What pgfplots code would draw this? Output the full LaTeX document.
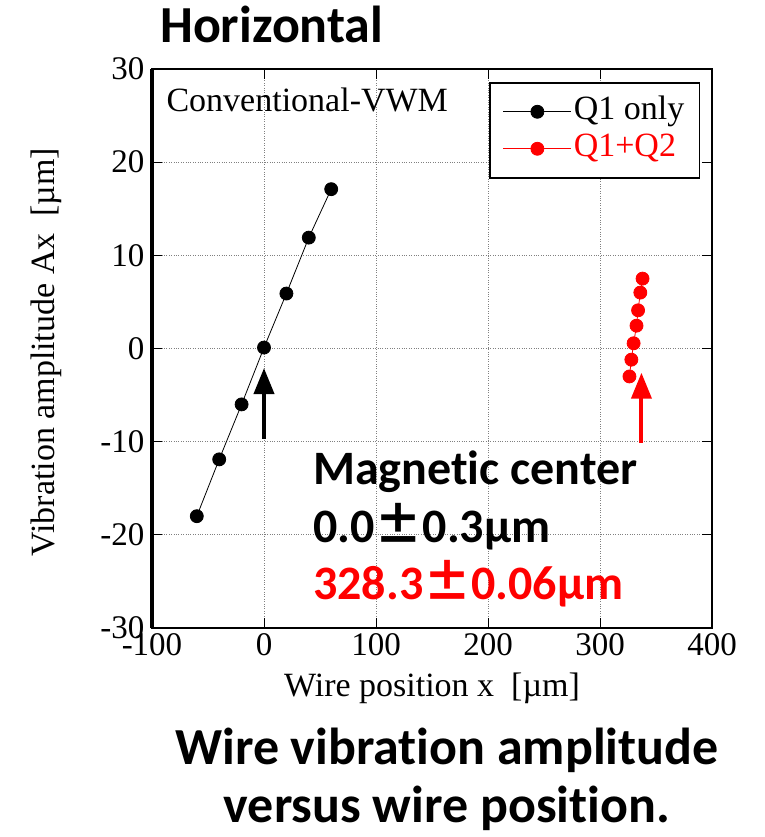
\documentclass[border=0pt]{standalone}
\usepackage{pgfplots}
\pgfplotsset{compat=1.18}
\usepackage{fontspec}
\setmainfont{Liberation Serif}
\newfontfamily\calfont[Ligatures=NoCommon]{Carlito}
\newfontfamily\cjkfont{Noto Sans CJK JP}
\usetikzlibrary{arrows.meta}
\newcommand{\widepm}{{\cjkfont\bfseries ±}}
\begin{document}
\begin{tikzpicture}[x=1pt,y=1pt]
\path (0,0) rectangle (764,837);
\begin{axis}[
  at={(152pt,209pt)}, anchor=south west,
  width=560pt, height=559pt, scale only axis,
  xmin=-100, xmax=400, ymin=-30, ymax=30,
  xtick={-100,0,100,200,300,400},
  ytick={-30,-20,-10,0,10,20,30},
  grid=major,
  major grid style={dotted, gray, line width=0.9pt},
  axis line style={line width=2pt},
  tick align=inside, major tick length=10pt,
  tick style={line width=1pt, black},
  ticklabel style={font=\fontsize{33}{38}\selectfont},
  /pgf/number format/assume math mode=true,
  yticklabel style={xshift=-4pt},
  xticklabel style={yshift=-2pt},
  legend style={at={(rel axis cs:0.9786,0.9767)}, anchor=north east,
    draw=black, line width=1.5pt, font=\fontsize{34}{38}\selectfont,
    inner xsep=13pt, inner ysep=11pt, row sep=1pt,
    nodes={text height=24pt, text depth=8pt, inner sep=2pt},
    /tikz/every even column/.append style={column sep=3pt}},
  legend cell align=left,
  legend image code/.code={%
    \draw[#1, line width=0.8pt] (0pt,0pt) -- (68pt,0pt);
    \draw[#1, only marks] plot coordinates {(34pt,0pt)};
  },
]
\addplot[black, line width=0.8pt, mark=*, mark size=6.5pt] coordinates {
  (-60,-18.0) (-40,-11.9) (-20,-6.0) (0,0.1) (20,5.9) (40,11.9) (60,17.1)
};
\addlegendentry{Q1 only}
\addplot[red, line width=0.8pt, mark=*, mark size=6.5pt] coordinates {
  (326.3,-3.0) (328,-1.2) (330,0.56) (332.6,2.45) (334,4.1) (336,6.0) (338,7.5)
};
\addlegendentry{\textcolor{red}{Q1+Q2}}
\draw[black, line width=4pt, -{Triangle[width=20pt,length=26pt]}]
  (axis cs:0,-9.7) -- (axis cs:0,-2.1);
\draw[red, line width=4pt, -{Triangle[width=20pt,length=26pt]}]
  (axis cs:337,-10.1) -- (axis cs:337,-2.6);
\end{axis}
% thicker left spine as in the reference
\draw[line width=3.5pt] (152,209) -- (152,768);
% axis labels
\node[anchor=center, font=\fontsize{34}{38}\selectfont] at (432,149) {Wire position x \ [µm]};
\node[anchor=center, rotate=90, font=\fontsize{34}{38}\selectfont] at (46,485) {Vibration amplitude Ax \ [µm]};
\node[anchor=west, font=\fontsize{34}{38}\selectfont] at (163,737) {Conventional-VWM};
% title
\node[anchor=base west, inner sep=0pt, font=\calfont\bfseries\fontsize{52}{60}\selectfont] at (160,794) {Horizontal};
% annotation
\node[anchor=base west, inner sep=0pt, font=\calfont\bfseries\fontsize{48}{56}\selectfont] at (313,352) {Magnetic center};
\node[anchor=base west, inner sep=0pt, font=\calfont\bfseries\fontsize{48}{56}\selectfont] at (313,294) {0.0\widepm0.3µm};
\node[anchor=base west, inner sep=0pt, text=red, font=\calfont\bfseries\fontsize{48}{56}\selectfont] at (313,237) {328.3\widepm0.06µm};
% caption
\node[anchor=base, inner sep=0pt, font=\calfont\bfseries\fontsize{52}{60}\selectfont] at (447,72) {Wire vibration amplitude};
\node[anchor=base, inner sep=0pt, font=\calfont\bfseries\fontsize{52}{60}\selectfont] at (447,14) {versus wire position.};
\end{tikzpicture}
\end{document}
